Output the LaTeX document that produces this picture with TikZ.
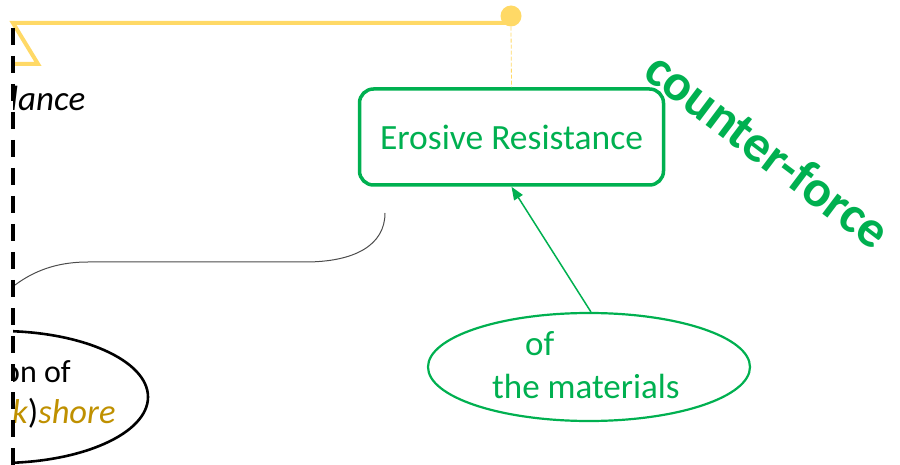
\documentclass[tikz,border=0pt]{standalone}
\usepackage{fontspec}
\setmainfont{Carlito}
\usetikzlibrary{arrows.meta,shapes.geometric}
\definecolor{leafgreen}{HTML}{00B050}
\definecolor{sunyellow}{HTML}{FFD966}
\definecolor{ochre}{HTML}{BF9000}
\tikzset{
  greenbox/.style={draw=leafgreen, line width=3.5pt, rounded corners=14pt,
    minimum width=304pt, minimum height=96pt, text=leafgreen, inner sep=0pt},
  greenoval/.style={ellipse, draw=leafgreen, line width=2.2pt,
    minimum width=322pt, minimum height=108pt, inner sep=0pt},
  blackoval/.style={ellipse, draw=black, line width=2.6pt,
    minimum width=296pt, minimum height=132pt, inner sep=0pt},
  greentext/.style={text=leafgreen, inner sep=0pt, anchor=base west},
  plaintext/.style={inner sep=0pt, anchor=base west},
  flagline/.style={draw=sunyellow, line width=4pt},
}
\begin{document}
\begin{tikzpicture}[x=1pt,y=-1pt]
\useasboundingbox (0,0) rectangle (900,465);

% yellow flag with a knob on its right end
\coordinate (flagL) at (13,23);
\coordinate (flagTip) at (38,64);
\coordinate (flagB) at (13,64);
\node[circle, fill=sunyellow, minimum size=21pt, inner sep=0pt] (knob) at (511,16) {};
\draw[flagline] (flagB) -- (flagTip) -- (flagL) -- (flagL -| knob.center);

% boxed concept
\node[greenbox] (resist) at (511.5,137) {\fontsize{35.5}{40}\selectfont Erosive Resistance};
\draw[sunyellow, line width=0.8pt, dash pattern=on 4pt off 2pt] (knob.south) -- (resist.north);

% oval concept below the box
\node[greenoval] (matell) at (589,367) {};
\node[greentext] (ofword) at (525,355) {\fontsize{35}{40}\selectfont of};
\node[greentext] (matword) at (492,398) {\fontsize{35}{40}\selectfont the materials};
\draw[leafgreen, line width=1.5pt, -{Triangle[length=13pt,width=10pt]}] (matell.88) -- (resist.south);

% rotated label
\node[text=leafgreen, rotate=-37, inner sep=0pt] (counter) at (768,150)
  {\fontsize{52}{56}\selectfont\bfseries counter-force};

% thin connector curve
\coordinate (curveA) at (15,285);
\coordinate (curveB) at (385,213);
\draw[black!70, line width=1pt] (curveA) .. controls (38,268) and (62,262) .. (88,262)
  -- (305,262) .. controls (355,262) and (385,245) .. (curveB);

% elements cut by the page edge on the left
\begin{scope}
  \clip (13,0) rectangle (900,465);
  \node[plaintext] (balword) at (10,111) {\fontsize{35}{40}\selectfont\itshape lance};
  \node[blackoval] (shoreov) at (0,397) {};
  \node[plaintext] (onword) at (3,382) {\fontsize{32}{36}\selectfont on of};
  \node[plaintext] (shoreword) at (12,423)
    {\fontsize{34.5}{40}\selectfont{\color{ochre}\itshape k})\textcolor{ochre}{\itshape shore}};
\end{scope}

% dashed page edge
\coordinate (edgeTop) at (13,28);
\coordinate (edgeBot) at (13,465);
\draw[black, line width=4pt, dash pattern=on 17pt off 11pt] (edgeTop) -- (edgeBot);
\end{tikzpicture}
\end{document}
